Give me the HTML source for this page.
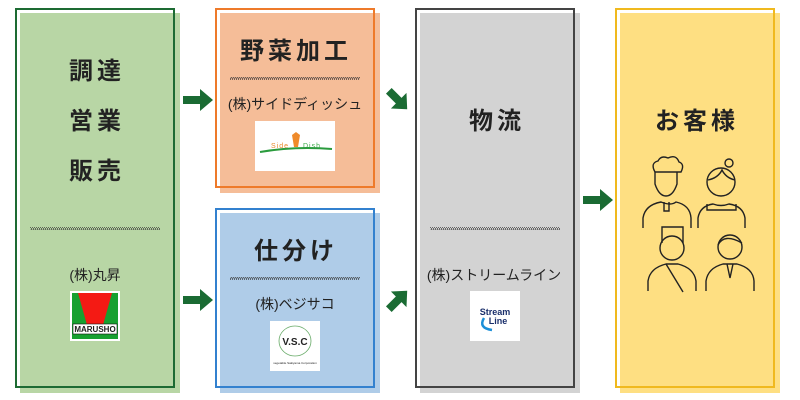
<!DOCTYPE html>
<html><head><meta charset="utf-8"><style>
body{margin:0;background:#fff}
svg{display:block}
text{font-family:"Liberation Sans","Noto Sans CJK JP",sans-serif;fill:#222;text-anchor:middle}
.h{font-size:24px;font-weight:bold;letter-spacing:4px}
.s{font-size:14px}
</style></head><body>
<svg width="800" height="400" viewBox="0 0 800 400" xmlns="http://www.w3.org/2000/svg">
<defs>
<pattern id="hat" width="2" height="4" patternUnits="userSpaceOnUse"><path d="M0 4 L2 0" stroke="#333" stroke-width="0.8"/></pattern>
</defs>
<!-- boxes -->
<rect x="20" y="13" width="160" height="380" fill="#b8d6a5"/>
<rect x="16" y="9" width="158" height="378" fill="none" stroke="#1d6b33" stroke-width="2"/>
<rect x="220" y="13" width="160" height="180" fill="#f5bd98"/>
<rect x="216" y="9" width="158" height="178" fill="none" stroke="#ee7a2a" stroke-width="2"/>
<rect x="220" y="213" width="160" height="180" fill="#afcce8"/>
<rect x="216" y="209" width="158" height="178" fill="none" stroke="#3381cf" stroke-width="2"/>
<rect x="420" y="13" width="160" height="380" fill="#d3d3d3"/>
<rect x="416" y="9" width="158" height="378" fill="none" stroke="#444" stroke-width="2"/>
<rect x="620" y="13" width="160" height="380" fill="#fedf82"/>
<rect x="616" y="9" width="158" height="378" fill="none" stroke="#f0b91e" stroke-width="2"/>
<!-- dotted lines -->
<rect x="30" y="227" width="130" height="3" fill="url(#hat)"/>
<rect x="230" y="77" width="130" height="3" fill="url(#hat)"/>
<rect x="230" y="277" width="130" height="3" fill="url(#hat)"/>
<rect x="430" y="227" width="130" height="3" fill="url(#hat)"/>
<!-- arrows -->
<g fill="#1a6b33">
<path d="M183 96h17v-7l13 11-13 11v-7h-17z"/>
<path d="M183 296h17v-7l13 11-13 11v-7h-17z"/>
<path d="M583 196h17v-7l13 11-13 11v-7h-17z"/>
<g transform="translate(398 100) rotate(45)"><path d="M-13 -4h14v-7l12 11-12 11v-7h-14z"/></g>
<g transform="translate(398 300) rotate(-45)"><path d="M-13 -4h14v-7l12 11-12 11v-7h-14z"/></g>
</g>
<!-- texts -->
<text class="h" x="97" y="79">調達</text>
<text class="h" x="97" y="129">営業</text>
<text class="h" x="97" y="179">販売</text>
<text class="s" x="95" y="280">(株)丸昇</text>
<text class="h" x="296" y="59">野菜加工</text>
<text class="s" x="295" y="109">(株)サイドディッシュ</text>
<text class="h" x="296" y="259">仕分け</text>
<text class="s" x="295" y="309">(株)ベジサコ</text>
<text class="h" x="497" y="129">物流</text>
<text class="s" x="494" y="280">(株)ストリームライン</text>
<text class="h" x="697" y="129">お客様</text>
<!-- logos -->
<rect x="70" y="291" width="50" height="50" fill="#fff"/>
<rect x="72" y="293" width="46" height="46" fill="#17a030"/>
<path d="M78 293h34l-9 32h-16z" fill="#f41a14"/>
<rect x="73" y="324" width="44" height="10" fill="#fff" stroke="#111" stroke-width="0.6"/>
<text x="95" y="332" style="font-size:8px;font-weight:bold">MARUSHO</text>
<rect x="255" y="121" width="80" height="50" fill="#fff"/>
<text x="280" y="148" style="font-size:7px;fill:#e88a2a;letter-spacing:1px">Side</text>
<text x="312" y="148" style="font-size:7px;fill:#3aa845;letter-spacing:1px">Dish</text>
<path d="M292 135l4 -3 4 3-2 12h-4z" fill="#ef8a2a"/>
<path d="M260 152q35 -6 72 -3" stroke="#2a9b3d" stroke-width="2" fill="none"/>
<rect x="270" y="321" width="50" height="50" fill="#fff"/>
<ellipse cx="295" cy="341" rx="16" ry="15" fill="none" stroke="#6a6" stroke-width="0.8"/>
<text x="295" y="345" style="font-size:10px;font-weight:bold">V.S.C</text>
<text x="295" y="364" style="font-size:3px">vegetable Sakiyama Corporation</text>
<rect x="470" y="291" width="50" height="50" fill="#fff"/>
<text x="495" y="315" style="font-size:9px;font-weight:bold;fill:#1a2f6b">Stream</text>
<text x="498" y="324" style="font-size:9px;font-weight:bold;fill:#1a2f6b">Line</text>
<path d="M484 318q-6 10 8 12" stroke="#1c8fd8" stroke-width="2.5" fill="none"/>
<!-- people -->
<g fill="none" stroke="#222" stroke-width="1.4">
<path d="M655 172q-5-9 3-11 3-6 10-3 8-4 11 4 6 2 2 10z"/>
<path d="M655 172v12q4 12 11 12 7 0 11-12v-12"/>
<path d="M643 228v-10q2-13 18-16 10 4 15 0 14 3 15 16v10"/>
<path d="M664 202v9h5v-9"/>
<circle cx="721" cy="182" r="14"/><circle cx="729" cy="163" r="4"/>
<path d="M708 180q10-2 14-10q4 8 13 10"/>
<path d="M698 228v-10q2-12 15-14 8 3 16 0 14 2 16 14v10"/>
<path d="M707 204v6h29v-6"/>
<path d="M662 243v-16h21v16"/><circle cx="672" cy="248" r="12"/>
<path d="M648 291v-10q2-13 18-17h12q16 4 18 17v10"/>
<path d="M666 264l17 28"/>
<circle cx="730" cy="247" r="12"/>
<path d="M718 245q6-12 24-2"/>
<path d="M706 291v-10q2-13 17-17h14q16 4 17 17v10"/>
<path d="M727 264l3 14 3-14"/>
</g>
</svg>
</body></html>
